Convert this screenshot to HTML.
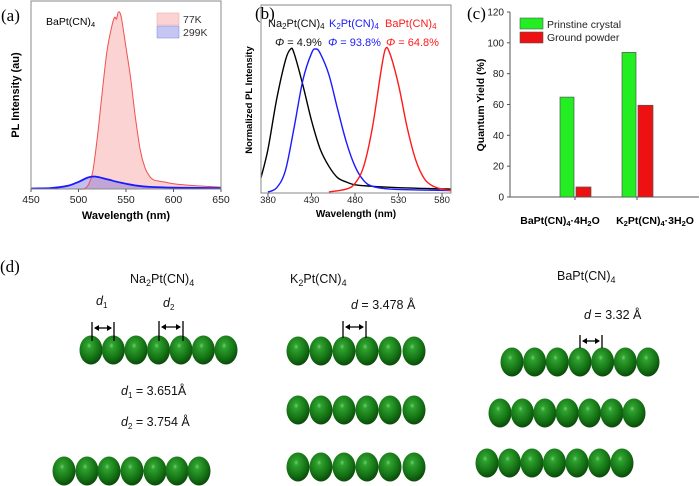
<!DOCTYPE html>
<html><head><meta charset="utf-8"><style>
body{margin:0;background:#fff}
svg{display:block;font-family:"Liberation Sans",Arial,sans-serif}
.serif{font-family:"Liberation Serif",serif}
</style></head><body>
<svg id="fig" width="700" height="486" viewBox="0 0 700 486" xmlns="http://www.w3.org/2000/svg">
<defs>
<radialGradient id="sph" cx="0.42" cy="0.35" r="0.65">
<stop offset="0" stop-color="#6fd06f"/><stop offset="0.15" stop-color="#2fa22f"/><stop offset="0.7" stop-color="#137013"/><stop offset="1" stop-color="#0b4a0b"/>
</radialGradient>
</defs>
<g id="pa"></g>
<g id="pb"></g>
<g id="pc"></g>
<g id="pd"></g>
</svg>
<script>
// Panel (a) data
const aX77=[500,505,510,515,520,525,530,535,538,540,542,545,550,555,560,565,570,575,580,590,600,620,650];
const aY77=[0,0,2,10,30,55,78,92,97,96,100,97,80,62,40,22,12,7,5,4,3,2,1];
const aX299=[450,470,480,490,500,510,518,530,545,560,575,600,650];
const aY299=[0.3,0.5,1,2,4,6.5,7,5.5,3.5,2,1.2,0.8,0.5];
const aTicks=[450,500,550,600,650];
// Panel (b) data
const bXNa=[372,380,390,400,406,410,420,430,440,450,460,470,480,500,530,560,590];
const bYNa=[0.1,0.3,0.65,0.92,1.0,0.97,0.75,0.5,0.3,0.18,0.1,0.07,0.05,0.04,0.03,0.025,0.02];
const bXK=[380,390,400,410,420,430,435,440,450,460,470,480,490,500,520,550,590];
const bYK=[0,0.03,0.15,0.45,0.78,0.97,1.0,0.97,0.82,0.58,0.35,0.18,0.08,0.04,0.02,0.015,0.01];
const bXBa=[450,470,480,490,500,510,515,520,530,540,550,560,570,580,590];
const bYBa=[0,0.02,0.06,0.18,0.45,0.85,1.0,0.97,0.75,0.45,0.22,0.09,0.04,0.02,0.01];
const bTicks=[380,430,480,530,580];
// Panel (c) data
const cCats=["BaPt(CN)4·4H2O","K2Pt(CN)4·3H2O"];
const cPristine=[64.8,93.8];
const cGround=[6.5,59.5];
const cTicks=[0,20,40,60,80,100,120];

const NS="http://www.w3.org/2000/svg";
function mk(parent,tag,attrs,text){const e=document.createElementNS(NS,tag);for(const k in attrs)e.setAttribute(k,attrs[k]);if(text!==undefined)e.textContent=text;parent.appendChild(e);return e;}
function smooth(xs,ys,fx,fy){const p=xs.map((x,i)=>[fx(x),fy(ys[i])]);let d='M'+p[0][0].toFixed(1)+','+p[0][1].toFixed(1);
 for(let i=0;i<p.length-1;i++){const p0=p[i-1]||p[i],p1=p[i],p2=p[i+1],p3=p[i+2]||p2;
  const c1=[p1[0]+(p2[0]-p0[0])/6,p1[1]+(p2[1]-p0[1])/6],c2=[p2[0]-(p3[0]-p1[0])/6,p2[1]-(p3[1]-p1[1])/6];
  d+=` C${c1[0].toFixed(1)},${c1[1].toFixed(1)} ${c2[0].toFixed(1)},${c2[1].toFixed(1)} ${p2[0].toFixed(1)},${p2[1].toFixed(1)}`;}
 return d;}
function areaPath(xs,ys,fx,fy,base){return smooth(xs,ys,fx,fy)+' L'+fx(xs[xs.length-1])+','+base+' L'+fx(xs[0])+','+base+' Z';}
let e;

// ---------- Panel a ----------
const pa=document.getElementById('pa');
const ax=v=>31+(v-450)/200*190, ay=v=>189-v/100*177;
e=mk(pa,'path',{d:areaPath(aX77,aY77,ax,ay,189),fill:'#fbd3d3',stroke:'none'});

e=mk(pa,'path',{d:areaPath(aX299,aY299,ax,ay,189),fill:'rgba(120,110,220,0.45)',stroke:'none'});

e=mk(pa,'path',{d:smooth(aX77,aY77,ax,ay),fill:'none',stroke:'#f05050','stroke-width':1});

e=mk(pa,'path',{d:smooth(aX299,aY299,ax,ay),fill:'none',stroke:'#1a1aff','stroke-width':1.8});

mk(pa,'rect',{x:31,y:1,width:190,height:188,fill:'none',stroke:'#888','stroke-width':1});
aTicks.forEach(t=>{mk(pa,'line',{x1:ax(t),x2:ax(t),y1:189,y2:192,stroke:'#555'});
 e=mk(pa,'text',{x:ax(t),y:203,'font-size':10.5,'text-anchor':'middle',fill:'#222'},t);
 });
e=mk(pa,'text',{x:126,y:219,'font-size':11,'font-weight':'bold','text-anchor':'middle'},'Wavelength (nm)');

e=mk(pa,'text',{x:19,y:95,'font-size':11,'font-weight':'bold','text-anchor':'middle',transform:'rotate(-90 19 95)'},'PL Intensity (au)');

pa.insertAdjacentHTML('beforeend','<text x="1" y="21" font-size="17" class="serif">(a)</text><text x="46" y="25" font-size="10.5">BaPt(CN)<tspan font-size="7.5" dy="2">4</tspan></text><g><rect x="157" y="13" width="22" height="12" fill="#fbd3d3" stroke="#f0a0a0" stroke-width="0.5"/><text x="183" y="23" font-size="10.5" fill="#333">77K</text><rect x="157" y="26" width="22" height="12" fill="#c6c6f2" stroke="#8080e0" stroke-width="0.5"/><text x="183" y="36" font-size="10.5" fill="#333">299K</text></g>');

// ---------- Panel b ----------
const pb=document.getElementById('pb');
const bx=v=>268+(v-380)/200*174, by=v=>192-v*143;
[[bXNa,bYNa,'#000','line-na'],[bXK,bYK,'#1a1aff','line-k'],[bXBa,bYBa,'#ff1a1a','line-ba']].forEach(s=>{
 e=mk(pb,'path',{d:smooth(s[0],s[1],bx,by),fill:'none',stroke:s[2],'stroke-width':1.4});
 });
mk(pb,'rect',{x:261,y:5,width:190,height:188,fill:'none',stroke:'#888','stroke-width':1});
bTicks.forEach(t=>{mk(pb,'line',{x1:bx(t),x2:bx(t),y1:193,y2:196,stroke:'#555'});
 e=mk(pb,'text',{x:bx(t),y:203,'font-size':9.5,'text-anchor':'middle',fill:'#222'},t);
 });
e=mk(pb,'text',{x:356,y:217,'font-size':10,'font-weight':'bold','text-anchor':'middle'},'Wavelength (nm)');

e=mk(pb,'text',{x:252,y:100,'font-size':9.5,'font-weight':'bold','text-anchor':'middle',transform:'rotate(-90 252 100)'},'Normalized PL Intensity');

pb.insertAdjacentHTML('beforeend','<text x="255" y="19" font-size="17" class="serif">(b)</text><g font-size="11"><text x="268" y="27" fill="#111">Na<tspan font-size="8" dy="2">2</tspan><tspan dy="-2">Pt(CN)</tspan><tspan font-size="8" dy="2">4</tspan></text><text x="329" y="27" fill="#1a1aff">K<tspan font-size="8" dy="2">2</tspan><tspan dy="-2">Pt(CN)</tspan><tspan font-size="8" dy="2">4</tspan></text><text x="385" y="27" fill="#ff1a1a">BaPt(CN)<tspan font-size="8" dy="2">4</tspan></text><text x="275" y="46" fill="#111"><tspan font-style="italic">Φ</tspan> = 4.9%</text><text x="328" y="46" fill="#1a1aff"><tspan font-style="italic">Φ</tspan> = 93.8%</text><text x="386" y="46" fill="#ff1a1a"><tspan font-style="italic">Φ</tspan> = 64.8%</text></g>');

// ---------- Panel c ----------
const pc=document.getElementById('pc');
const cy=v=>197-v/120*185;
const cCenters=[575,637];
mk(pc,'line',{x1:510,x2:510,y1:12,y2:197,stroke:'#555'});
mk(pc,'line',{x1:510,x2:699,y1:197,y2:197,stroke:'#555'});
cTicks.forEach(t=>{mk(pc,'line',{x1:507,x2:510,y1:cy(t),y2:cy(t),stroke:'#555'});
 e=mk(pc,'text',{x:504,y:cy(t)+3.5,'font-size':10,'text-anchor':'end',fill:'#222'},t);
 });
cCats.forEach((c,i)=>{
 e=mk(pc,'rect',{x:cCenters[i]-15,y:cy(cPristine[i]),width:14,height:197-cy(cPristine[i]),fill:'#22ee22',stroke:'#555','stroke-width':0.7});
 
 e=mk(pc,'rect',{x:cCenters[i]+1,y:cy(cGround[i]),width:15,height:197-cy(cGround[i]),fill:'#ee1111',stroke:'#555','stroke-width':0.7});
 
 mk(pc,'line',{x1:cCenters[i],x2:cCenters[i],y1:197,y2:200,stroke:'#555'});
});
e=mk(pc,'text',{x:484,y:105,'font-size':10.5,'font-weight':'bold','text-anchor':'middle',transform:'rotate(-90 484 105)'},'Quantum Yield (%)');

pc.insertAdjacentHTML('beforeend','<text x="467" y="19" font-size="17" class="serif">(c)</text><g><rect x="520" y="18" width="23" height="11" fill="#22ee22" stroke="#555" stroke-width="0.6"/><text x="547" y="28" font-size="10.5" fill="#222">Prinstine crystal</text><rect x="520" y="32" width="23" height="11" fill="#ee1111" stroke="#555" stroke-width="0.6"/><text x="547" y="41" font-size="10.5" fill="#222">Ground powder</text></g><g font-size="10.5" font-weight="bold"><text x="560" y="224" text-anchor="middle">BaPt(CN)<tspan font-size="7.5" dy="2">4</tspan><tspan dy="-2">·4H</tspan><tspan font-size="7.5" dy="2">2</tspan><tspan dy="-2">O</tspan></text><text x="655" y="224" text-anchor="middle">K<tspan font-size="7.5" dy="2">2</tspan><tspan dy="-2">Pt(CN)</tspan><tspan font-size="7.5" dy="2">4</tspan><tspan dy="-2">·3H</tspan><tspan font-size="7.5" dy="2">2</tspan><tspan dy="-2">O</tspan></text></g>');

// ---------- Panel d ----------
const pd=document.getElementById('pd');
const rows=[[91,350,[0,22.3,45,67.5,90,112.3,135]],[64,471,[0,23,45,68,91,113,135]],
 [298,351,[0,23,46,69,92,116]],[298,410,[0,23,46,69,92,116]],[298,467,[0,23,46,69,92,116]],
 [512,362,[0,22.6,45.3,68,90.6,113.3,136]],[500,413,[0,22.4,44.8,67.2,89.6,112,134]],[487,463,[0,22.5,45,67.5,90,112.5,135]]];
rows.forEach(r=>{const g=mk(pd,'g',{});
 r[2].forEach(o=>mk(g,'ellipse',{cx:r[0]+o,cy:r[1],rx:11.5,ry:14.5,fill:'url(#sph)'}));});
function marker(x1,x2,yt,yb){mk(pd,'line',{x1:x1,x2:x1,y1:yt,y2:yb,stroke:'#000','stroke-width':1.3});
 mk(pd,'line',{x1:x2,x2:x2,y1:yt,y2:yb,stroke:'#000','stroke-width':1.3});
 const m=(yt+6);mk(pd,'line',{x1:x1+3,x2:x2-3,y1:m,y2:m,stroke:'#000','stroke-width':1.3});
 mk(pd,'path',{d:`M${x1+2},${m} l5,-3 v6 z M${x2-2},${m} l-5,-3 v6 z`,fill:'#000'});}
marker(92,114,322,341);marker(159,183,321,341);marker(343,366,321,338);marker(580,602,335,348);
pd.insertAdjacentHTML('beforeend','<text x="0" y="272" font-size="17" class="serif">(d)</text><g font-size="12.5" fill="#111"><text x="130" y="283">Na<tspan font-size="9" dy="3">2</tspan><tspan dy="-3">Pt(CN)</tspan><tspan font-size="9" dy="3">4</tspan></text><text x="290" y="283">K<tspan font-size="9" dy="3">2</tspan><tspan dy="-3">Pt(CN)</tspan><tspan font-size="9" dy="3">4</tspan></text><text x="557" y="280">BaPt(CN)<tspan font-size="9" dy="3">4</tspan></text><text x="96" y="305" font-style="italic">d<tspan font-size="8" dy="3" font-style="normal">1</tspan></text><text x="163" y="307" font-style="italic">d<tspan font-size="8" dy="3" font-style="normal">2</tspan></text><text x="351" y="309"><tspan font-style="italic">d</tspan> = 3.478 Å</text><text x="584" y="319"><tspan font-style="italic">d</tspan> = 3.32 Å</text><text x="121" y="395"><tspan font-style="italic">d</tspan><tspan font-size="8" dy="3">1</tspan><tspan dy="-3"> = 3.651Å</tspan></text><text x="121" y="426"><tspan font-style="italic">d</tspan><tspan font-size="8" dy="3">2</tspan><tspan dy="-3"> = 3.754 Å</tspan></text></g>');
</script>
</body></html>
